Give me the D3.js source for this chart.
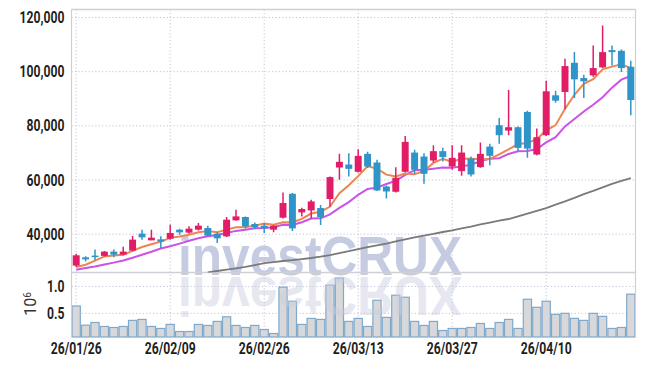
<!DOCTYPE html>
<html><head><meta charset="utf-8">
<script src="https://cdn.jsdelivr.net/npm/d3@7/dist/d3.min.js"></script>
<style>
html,body{margin:0;padding:0;background:#fff;}
svg{display:block;}
.lbl{font-family:Roboto,'Liberation Sans',sans-serif;font-size:16px;font-weight:700;fill:#1e1e1e;}
</style></head>
<body><svg id="c" width="645" height="366"></svg>
<script>
const dates = ["26/01/26","26/01/27","26/01/28","26/01/29","26/01/30","26/02/02","26/02/03","26/02/04","26/02/05","26/02/06",
"26/02/09","26/02/10","26/02/11","26/02/12","26/02/13","26/02/19","26/02/20","26/02/23","26/02/24","26/02/25",
"26/02/26","26/02/27","26/03/03","26/03/04","26/03/05","26/03/06","26/03/09","26/03/10","26/03/11","26/03/12",
"26/03/13","26/03/16","26/03/17","26/03/18","26/03/19","26/03/20","26/03/23","26/03/24","26/03/25","26/03/26",
"26/03/27","26/03/30","26/03/31","26/04/01","26/04/02","26/04/03","26/04/06","26/04/07","26/04/08","26/04/09",
"26/04/10","26/04/13","26/04/14","26/04/15","26/04/16","26/04/17","26/04/20","26/04/21","26/04/22","26/04/23"];
const open = [28400,31460,32090,31980,33560,32450,33930,40190,37720,38090,38350,41660,40560,41660,42290,40190,39200,45100,46340,43760,
43140,41660,46080,54920,48040,48770,49650,52970,64610,65710,63020,69650,66450,57610,55660,63020,70130,68660,67190,70650,
64980,63280,67920,64750,72340,80220,78240,79490,85120,69400,76540,91270,92490,103280,97640,98640,101580,107960,107700,101810];
const high = [32800,31830,34300,33820,34300,35400,39340,41660,41660,39200,43500,42030,42880,44130,43140,40670,46340,49030,46560,44350,
44130,43390,55400,55180,49770,52710,50760,61300,69650,69910,71390,70390,67450,57980,64750,76280,71130,69910,72860,71870,
72860,72860,68660,73820,73340,82910,93220,79710,85600,78970,96650,92970,104750,107220,98860,109690,117050,109690,108220,104020];
const low = [27900,29880,30360,31720,31460,32200,33670,37980,37720,34920,37980,39820,40190,41400,39200,36760,38970,44980,42140,41920,
40450,40670,45830,41180,46560,45830,43390,50250,60080,61300,62770,64390,55920,53190,55400,62770,62290,58600,66450,66820,
63760,61550,61300,64500,65490,73340,76540,70650,68180,69170,76280,88550,86120,90280,90280,98130,101330,102320,99850,83910];
const close = [32200,30700,31720,33560,32450,33560,37980,38830,38710,37240,40450,40670,42030,43140,39450,38460,45350,46560,42880,42510,
42140,43140,51500,42140,49290,52080,46340,61070,66710,64130,68920,64980,56140,55770,60820,74070,63760,62290,70650,68440,
68180,70130,62030,69650,68920,76540,79490,71860,71600,75800,92750,89290,102060,97170,96430,101330,107220,107220,101330,89540];
const volume = [0.637,0.28,0.33,0.256,0.237,0.256,0.369,0.387,0.256,0.219,0.294,0.162,0.162,0.294,0.275,0.35,0.436,0.275,0.237,0.275,
0.2,0.125,0.988,0.725,0.294,0.406,0.387,1.025,1.156,0.35,0.406,0.256,0.744,0.425,0.838,0.80,0.35,0.275,0.35,0.181,
0.219,0.219,0.237,0.312,0.219,0.33,0.387,0.219,0.763,0.613,0.725,0.481,0.5,0.406,0.369,0.5,0.444,0.219,0.237,0.856];
const ma5 = [27900,28700,30250,31800,32130,32400,33850,35280,36310,37260,38640,39180,39820,40710,41150,40750,41690,42590,42540,43150,
43890,43450,44430,44290,45640,47630,48270,50180,55100,58070,61430,65160,64180,61990,61330,62360,62110,63340,66320,67840,
66660,67940,67890,67690,67780,69450,71330,73290,73680,75060,78300,80260,86300,91410,95540,97260,100840,101870,102710,101330];
const ma10 = [26900,27500,28100,28800,29500,30300,31300,32400,33500,34700,35520,36520,37550,38510,39210,39700,40430,41210,41620,42150,
42320,42570,43510,43410,44400,45760,45860,47310,49690,51850,54530,56720,57180,58540,59700,61900,63640,63760,64150,64580,
64510,65030,65610,67000,67810,68060,69630,70590,70680,71420,73880,75790,79800,82550,85300,87780,90550,94090,97060,98430];
const ma60 = [null,null,null,null,null,null,null,null,null,null,null,null,null,null,25900,26400,26900,27400,27950,28600,
29300,29700,30100,30400,30800,31200,31700,32300,33000,33700,34500,35200,35900,36500,37300,38100,38800,39500,40100,40800,
41400,42100,42800,43600,44300,45000,45600,46600,47600,48600,49650,50900,52100,53400,54800,56000,57300,58600,59700,60700];
const priceTicks = [40000,60000,80000,100000,120000];
const volTicks = [0.5,1.0];
const dateTicks = ["26/01/26","26/02/09","26/02/26","26/03/13","26/03/27","26/04/10"];

const svg = d3.select("#c");
const L = 71.5, R = 635.5, T = 9.5, M = 272.5, B = 337;
const x = d3.scaleBand().domain(dates).range([L, R]).padding(0);
const cx = d => x(d) + x.bandwidth()/2;
const y = d3.scaleLinear().domain([25850, 122950]).range([M, T]);
const yv = d3.scaleLinear().domain([0.06, 1.26]).range([B, M]);

const gridC = "#c2c4d6";
svg.append("g").selectAll("line").data(priceTicks).join("line")
  .attr("x1", L).attr("x2", R).attr("y1", d => y(d)).attr("y2", d => y(d))
  .attr("stroke", gridC).attr("stroke-dasharray", "1.2,2.2");
svg.append("g").selectAll("line").data(volTicks).join("line")
  .attr("x1", L).attr("x2", R).attr("y1", d => yv(d)).attr("y2", d => yv(d))
  .attr("stroke", gridC).attr("stroke-dasharray", "1.2,2.2");
svg.append("g").selectAll("line").data(dateTicks).join("line")
  .attr("x1", d => cx(d)).attr("x2", d => cx(d)).attr("y1", T).attr("y2", B)
  .attr("stroke", gridC).attr("stroke-dasharray", "1.2,2.2");

const idx = d3.range(dates.length);
svg.append("g").selectAll("rect").data(idx).join("rect")
  .attr("x", i => x(dates[i]) + 0.6).attr("width", x.bandwidth() - 1.2)
  .attr("y", i => yv(volume[i])).attr("height", i => B - yv(volume[i]))
  .attr("fill", "#d8d8da").attr("stroke", "#7ea9cc").attr("stroke-width", 1.2);

// watermark
const wm = svg.append("g").style("font-family", "'Liberation Sans',Arial,sans-serif").style("font-weight", "bold");
wm.append("text").attr("x", 178).attr("y", 275).attr("font-size", 55)
  .attr("textLength", 284).attr("lengthAdjust", "spacingAndGlyphs")
  .attr("fill", "#bcc4de").attr("opacity", 0.85).text("investCRUX");
wm.append("text").attr("x", 178).attr("y", 275).attr("font-size", 55)
  .attr("textLength", 284).attr("lengthAdjust", "spacingAndGlyphs")
  .attr("transform", "translate(0,552) scale(1,-1)")
  .attr("fill", "#c8cce0").attr("opacity", 0.45).text("investCRUX");

const frameC = "#d0d0d4";
svg.append("line").attr("x1", L).attr("x2", R).attr("y1", T).attr("y2", T).attr("stroke", frameC).attr("stroke-width", 1.5);
svg.append("line").attr("x1", L).attr("x2", R).attr("y1", M).attr("y2", M).attr("stroke", frameC).attr("stroke-width", 1.5);
svg.append("line").attr("x1", L).attr("x2", L).attr("y1", T).attr("y2", B).attr("stroke", frameC).attr("stroke-width", 1.2);
svg.append("line").attr("x1", R).attr("x2", R).attr("y1", T).attr("y2", B).attr("stroke", frameC).attr("stroke-width", 1.2);

svg.append("clipPath").attr("id", "mainclip").append("rect").attr("x", L).attr("y", T).attr("width", R - L).attr("height", M - T);
const main = svg.append("g").attr("clip-path", "url(#mainclip)");

const mkLine = arr => d3.line().defined(i => arr[i] != null).x(i => cx(dates[i])).y(i => y(arr[i]))(idx);
main.append("path").attr("d", mkLine(ma60)).attr("fill", "none").attr("stroke", "#7a7a7a").attr("stroke-width", 1.8);
main.append("path").attr("d", mkLine(ma10)).attr("fill", "none").attr("stroke", "#cc52e6").attr("stroke-width", 2);
main.append("path").attr("d", mkLine(ma5)).attr("fill", "none").attr("stroke", "#ec8650").attr("stroke-width", 2);

const up = "#e21d68", down = "#2f95c8";
const bw = x.bandwidth() * 0.74;
const cg = main.append("g");
cg.selectAll("line").data(idx).join("line")
  .attr("x1", i => cx(dates[i])).attr("x2", i => cx(dates[i]))
  .attr("y1", i => y(high[i])).attr("y2", i => y(low[i]))
  .attr("stroke", i => close[i] >= open[i] ? up : down).attr("stroke-width", 1.5);
cg.selectAll("rect").data(idx).join("rect")
  .attr("x", i => cx(dates[i]) - bw/2).attr("width", bw)
  .attr("y", i => y(Math.max(open[i], close[i])))
  .attr("height", i => Math.max(1.5, Math.abs(y(open[i]) - y(close[i]))))
  .attr("fill", i => close[i] >= open[i] ? up : down);

function styleAxis(g) {
  g.select(".domain").remove();
  g.selectAll("text").attr("class", "lbl").attr("font-size", null).attr("font-family", null)
    .attr("fill", null).attr("transform", "scale(0.76,1)");
}
const ay = svg.append("g").attr("transform", `translate(${L - 1},0)`)
  .call(d3.axisLeft(y).tickValues(priceTicks).tickSize(0).tickPadding(8).tickFormat(d3.format(",")));
styleAxis(ay);
const av = svg.append("g").attr("transform", `translate(${L - 1},0)`)
  .call(d3.axisLeft(yv).tickValues(volTicks).tickSize(0).tickPadding(8).tickFormat(d3.format(".1f")));
styleAxis(av);
const ax = svg.append("g").attr("transform", `translate(0,${B})`)
  .call(d3.axisBottom(x).tickValues(dateTicks).tickSize(0).tickPadding(6));
styleAxis(ax);

const ul = svg.append("text").attr("class", "lbl").attr("transform", "translate(36,304) rotate(-90)")
  .attr("text-anchor", "middle").style("fill", "#333").style("font-weight", "400");
ul.append("tspan").text("10");
ul.append("tspan").attr("dy", -5).attr("font-size", 10).text("6");
</script></body></html>
